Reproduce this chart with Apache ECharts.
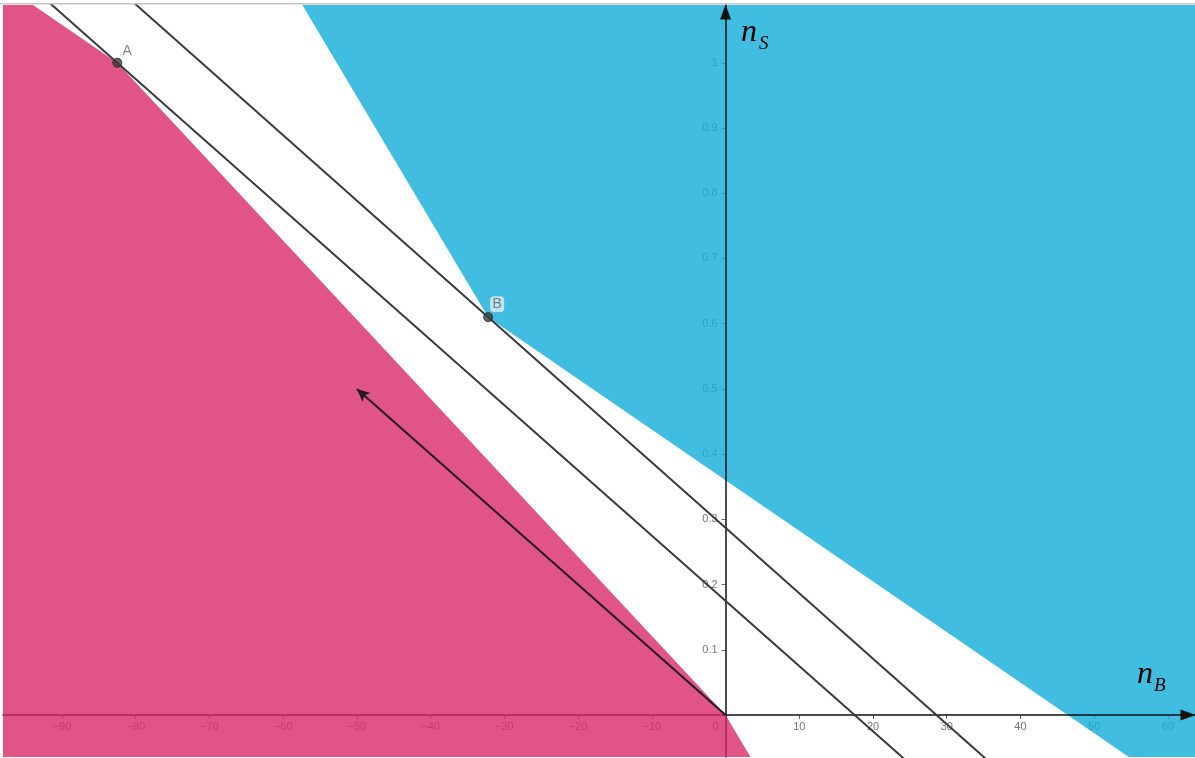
<!DOCTYPE html>
<html>
<head>
<meta charset="utf-8">
<script src="https://cdn.jsdelivr.net/npm/echarts@6/dist/echarts.min.js"></script>
<style>
  html, body { margin: 0; padding: 0; background: #fff; }
  #main { width: 1195px; height: 758px; }
</style>
</head>
<body>
<div id="main"></div>
<script>
// Visible window of the (n_B, n_S) plane
const xRange = [-98.0, 63.67];
const yRange = [-0.0644, 1.0886];
const xTicks = [-90, -80, -70, -60, -50, -40, -30, -20, -10, 0, 10, 20, 30, 40, 50, 60];
const yTicks = [0.1, 0.2, 0.3, 0.4, 0.5, 0.6, 0.7, 0.8, 0.9, 1];

// Named points
const pointA = [-82.5, 1.0];
const pointB = [-32.2, 0.61];

// Direction vector u, drawn from the origin
const vectorOrigin = [0, 0];
const vectorU = [-50, 0.5];

// Level lines through A and B (second point: where each one meets n_S = 0)
const lineThroughA = [pointA, [17.5, 0]];
const lineThroughB = [pointB, [28.6, 0]];

// Region boundaries, listed along each edge
const pinkEdge = [[-95.4, 1.1], [-82.5, 1.0], [0, 0], [4.2, -0.08]];
const pinkOuter = [[-110, -0.08], [-110, 1.1]];
const blueEdge = [[-58.0, 1.1], [-32.2, 0.61], [0, 0.36], [46.4, 0], [56.7, -0.08]];
const blueOuter = [[80, -0.08], [80, 1.1]];

const PINK = 'rgba(216, 41, 106, 0.8)';
const BLUE = 'rgba(16, 173, 216, 0.8)';
const LABEL_FONT = '11px "Liberation Sans", Arial, sans-serif';
const POINT_FONT = '"Liberation Sans", Arial, sans-serif';

// Stretch a segment well past the window; the grid clips it
function stretch(seg, t) {
  const [p, q] = seg;
  const d = [q[0] - p[0], q[1] - p[1]];
  return [[p[0] - t * d[0], p[1] - t * d[1]], [q[0] + t * d[0], q[1] + t * d[1]]];
}

function regionSeries(name, edge, outer, color, z) {
  const pts = edge.concat(outer);
  return {
    name, type: 'custom', xAxisIndex: 0, yAxisIndex: 0, z, silent: true, clip: true,
    data: [[0, 0]],
    renderItem: (params, api) => ({
      type: 'polygon',
      shape: { points: pts.map(p => api.coord(p)) },
      style: { fill: color }
    })
  };
}

function levelLine(name, seg) {
  return {
    name, type: 'line', xAxisIndex: 0, yAxisIndex: 0, z: 4, silent: true,
    data: stretch(seg, 3), symbol: 'none', clip: true,
    lineStyle: { color: '#3a3a3a', width: 2 }
  };
}

const minus = v => String(v).replace('-', '\u2212');

// Tick numbers sit beside the axes, which cross at the origin
const xTickLabels = {
  name: 'n_B ticks', type: 'custom', xAxisIndex: 0, yAxisIndex: 0, z: 0, silent: true, clip: false,
  data: xTicks.map(v => [v, 0]),
  renderItem: (params, api) => {
    const v = api.value(0);
    const p = api.coord([v, 0]);
    return {
      type: 'text', x: p[0] + (v === 0 ? -10 : 0), y: p[1] + 6,
      style: { text: minus(v), font: LABEL_FONT, fill: '#777', align: 'center', verticalAlign: 'top' }
    };
  }
};
const yTickLabels = {
  name: 'n_S ticks', type: 'custom', xAxisIndex: 0, yAxisIndex: 0, z: 0, silent: true, clip: false,
  data: yTicks.map(v => [0, v]),
  renderItem: (params, api) => {
    const v = api.value(1);
    const p = api.coord([0, v]);
    return {
      type: 'text', x: p[0] - 8, y: p[1],
      style: { text: String(v), font: LABEL_FONT, fill: '#777', align: 'right', verticalAlign: 'middle' }
    };
  }
};

const tickAxisCommon = {
  type: 'value', z: 0,
  splitLine: { show: false },
  axisLabel: { show: false },
  axisLine: { show: true, onZero: true, onZeroAxisIndex: 0, lineStyle: { color: 'rgba(0,0,0,0)' } }
};

const lineAxisCommon = {
  type: 'value', z: 2,
  splitLine: { show: false },
  axisLabel: { show: false },
  axisTick: { show: false },
  axisLine: {
    show: true, onZero: true, onZeroAxisIndex: 0,
    symbol: ['none', 'triangle'], symbolSize: [11, 15], symbolOffset: [0, -7],
    lineStyle: { color: '#111', width: 1.5 }
  }
};

const chart = echarts.init(document.getElementById('main'), null, { renderer: 'canvas' });

chart.setOption({
  animation: false,
  backgroundColor: '#fff',
  grid: { left: 3, right: 0, top: 5, bottom: 1, containLabel: false, outerBoundsMode: 'none' },
  xAxis: [
    Object.assign({}, tickAxisCommon, {
      min: xRange[0], max: xRange[1], position: 'bottom',
      axisTick: { show: true, customValues: xTicks, length: 4, lineStyle: { color: '#666' } }
    }),
    Object.assign({}, lineAxisCommon, { min: xRange[0], max: xRange[1], position: 'bottom' })
  ],
  yAxis: [
    Object.assign({}, tickAxisCommon, {
      min: yRange[0], max: yRange[1], position: 'left',
      axisTick: { show: true, customValues: yTicks, length: 4, lineStyle: { color: '#666' } }
    }),
    Object.assign({}, lineAxisCommon, { min: yRange[0], max: yRange[1], position: 'left' })
  ],
  graphic: [
    { type: 'rect', shape: { x: 0, y: 3, width: 1195, height: 1.5 }, style: { fill: '#c4c4c4' }, z: 100, silent: true },
    { type: 'text', left: 741, top: 17, z: 100, silent: true,
      style: { text: 'n', font: 'italic 32px "Liberation Serif", "DejaVu Serif", serif', fill: '#000' } },
    { type: 'text', left: 759, top: 34, z: 100, silent: true,
      style: { text: 'S', font: 'italic 19px "Liberation Serif", "DejaVu Serif", serif', fill: '#000' } },
    { type: 'text', left: 1137, top: 659, z: 100, silent: true,
      style: { text: 'n', font: 'italic 32px "Liberation Serif", "DejaVu Serif", serif', fill: '#000' } },
    { type: 'text', left: 1154, top: 676, z: 100, silent: true,
      style: { text: 'B', font: 'italic 19px "Liberation Serif", "DejaVu Serif", serif', fill: '#000' } }
  ],
  series: [
    xTickLabels,
    yTickLabels,
    regionSeries('blue region', blueEdge, blueOuter, BLUE, 1),
    regionSeries('pink region', pinkEdge, pinkOuter, PINK, 3),
    levelLine('line through A', lineThroughA),
    levelLine('line through B', lineThroughB),
    {
      name: 'u', type: 'line', xAxisIndex: 0, yAxisIndex: 0, z: 4, silent: true,
      data: [], symbol: 'none',
      markLine: {
        silent: true, symbol: ['none', 'arrow'], symbolSize: [9, 13],
        label: { show: false },
        lineStyle: { color: '#241820', width: 2, type: 'solid' },
        data: [[{ coord: vectorOrigin }, { coord: vectorU }]]
      }
    },
    {
      name: 'u label', type: 'scatter', xAxisIndex: 0, yAxisIndex: 0, z: 5, silent: true,
      symbol: 'none',
      data: [[(vectorOrigin[0] + vectorU[0]) / 2, (vectorOrigin[1] + vectorU[1]) / 2]],
      label: {
        show: true, formatter: 'u', position: 'inside', offset: [1, -3],
        fontSize: 13, color: '#555', fontFamily: POINT_FONT,
        backgroundColor: 'rgba(255,255,255,0.75)', padding: [0, 2, 0, 2], borderRadius: 2
      }
    },
    {
      name: 'points', type: 'scatter', xAxisIndex: 0, yAxisIndex: 0, z: 6, silent: true,
      symbolSize: 9,
      itemStyle: { color: '#3c3c3c', borderColor: '#1e1e1e', borderWidth: 1 },
      data: [
        { value: pointA, name: 'A',
          label: { show: true, formatter: 'A', position: 'inside', offset: [10, -12],
                   fontSize: 14, color: '#666', fontFamily: POINT_FONT } },
        { value: pointB, name: 'B',
          label: { show: true, formatter: 'B', position: 'inside', offset: [9, -13],
                   fontSize: 14, color: '#666', fontFamily: POINT_FONT,
                   backgroundColor: 'rgba(255,255,255,0.8)', borderColor: '#ccc', borderWidth: 0.5,
                   borderRadius: 3, padding: [1, 2, 0, 2] } }
      ]
    }
  ]
});
</script>
</body>
</html>
